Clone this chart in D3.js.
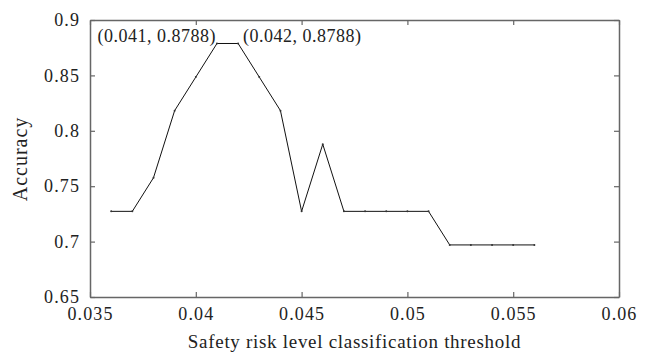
<!DOCTYPE html>
<html>
<head>
<meta charset="utf-8">
<script src="https://cdn.jsdelivr.net/npm/d3@7"></script>
<style>
    body { margin: 0; background: #fff; }
    text { font-family: "Liberation Serif", "DejaVu Serif", serif; fill: #222; }
</style>
</head>
<body>
<div class="chart"></div>
<script>
// DATA //
var thresholds = [0.036, 0.037, 0.038, 0.039, 0.040, 0.041, 0.042, 0.043, 0.044, 0.045, 0.046,
    0.047, 0.048, 0.049, 0.050, 0.051, 0.052, 0.053, 0.054, 0.055, 0.056];
var accuracy = [0.7273, 0.7273, 0.7576, 0.8182, 0.8485, 0.8788, 0.8788, 0.8485, 0.8182, 0.7273, 0.7879,
    0.7273, 0.7273, 0.7273, 0.7273, 0.7273, 0.6970, 0.6970, 0.6970, 0.6970, 0.6970];
var xTicks = [0.035, 0.04, 0.045, 0.05, 0.055, 0.06];
var yTicks = [0.65, 0.7, 0.75, 0.8, 0.85, 0.9];
var annotations = [
    { x: 0.041, y: 0.8788, label: '(0.041, 0.8788)', side: 'left' },
    { x: 0.042, y: 0.8788, label: '(0.042, 0.8788)', side: 'right' }
];

var width = 651, height = 358,
    margin = { top: 20, right: 32, bottom: 61, left: 90 };
var w = width - margin.left - margin.right,
    h = height - margin.top - margin.bottom;

var data = thresholds.map(function(d, i) {
    return { key: d, value: accuracy[i] };
});

var svg = d3.select('.chart').append('svg')
    .attr('width', width)
    .attr('height', height);

var g = svg.append('g')
    .attr('transform', 'translate(' + margin.left + ',' + margin.top + ')');

var xScale = d3.scaleLinear().domain([0.035, 0.06]).range([0, w]);
var yScale = d3.scaleLinear().domain([0.65, 0.9]).range([h, 0]);

var fmt = function(d) { return String(+d.toFixed(3)); };

// axes: inward ticks on all four sides
function styleAxis(sel) {
    sel.select('.domain').attr('stroke', '#666').attr('stroke-width', 1.5);
    sel.selectAll('.tick line').attr('stroke', '#666').attr('stroke-width', 1.2);
    sel.selectAll('text')
        .style('font-size', '18px')
        .style('letter-spacing', '1.1px')
        .attr('fill', '#222');
}

g.append('g')
    .attr('transform', 'translate(0,' + h + ')')
    .call(d3.axisBottom(xScale).tickValues(xTicks).tickFormat(fmt).tickSizeInner(-5).tickSizeOuter(0).tickPadding(10))
    .call(styleAxis);

g.append('g')
    .call(d3.axisTop(xScale).tickValues(xTicks).tickFormat('').tickSizeInner(-5).tickSizeOuter(0))
    .call(styleAxis);

g.append('g')
    .call(d3.axisLeft(yScale).tickValues(yTicks).tickFormat(fmt).tickSizeInner(-5).tickSizeOuter(0).tickPadding(10))
    .call(styleAxis);

g.append('g')
    .attr('transform', 'translate(' + w + ',0)')
    .call(d3.axisRight(yScale).tickValues(yTicks).tickFormat('').tickSizeInner(-5).tickSizeOuter(0))
    .call(styleAxis);

g.selectAll('.domain').attr('fill', 'none');

// line
var line = d3.line()
    .x(function(d) { return xScale(d.key); })
    .y(function(d) { return yScale(d.value); });

g.append('path')
    .datum(data)
    .attr('fill', 'none')
    .attr('stroke', '#111')
    .attr('stroke-width', 1)
    .attr('d', line);

g.selectAll('circle')
    .data(data)
    .enter().append('circle')
    .attr('cx', function(d) { return xScale(d.key); })
    .attr('cy', function(d) { return yScale(d.value); })
    .attr('r', 1)
    .attr('fill', '#333');

// annotations
g.selectAll('.note')
    .data(annotations)
    .enter().append('text')
    .attr('class', 'note')
    .attr('x', function(d) { return xScale(d.x) + (d.side === 'left' ? -1 : 5); })
    .attr('y', function(d) { return yScale(d.y) - 1; })
    .attr('text-anchor', function(d) { return d.side === 'left' ? 'end' : 'start'; })
    .style('font-size', '18px')
    .style('letter-spacing', '0.5px')
    .text(function(d) { return d.label; });

// axis titles
svg.append('text')
    .attr('x', margin.left + w / 2)
    .attr('y', 348)
    .attr('text-anchor', 'middle')
    .style('font-size', '19px')
    .style('letter-spacing', '0.7px')
    .text('Safety risk level classification threshold');

svg.append('text')
    .attr('transform', 'translate(27,159) rotate(-90)')
    .attr('text-anchor', 'middle')
    .style('font-size', '20px')
    .style('letter-spacing', '1px')
    .text('Accuracy');
</script>
</body>
</html>
